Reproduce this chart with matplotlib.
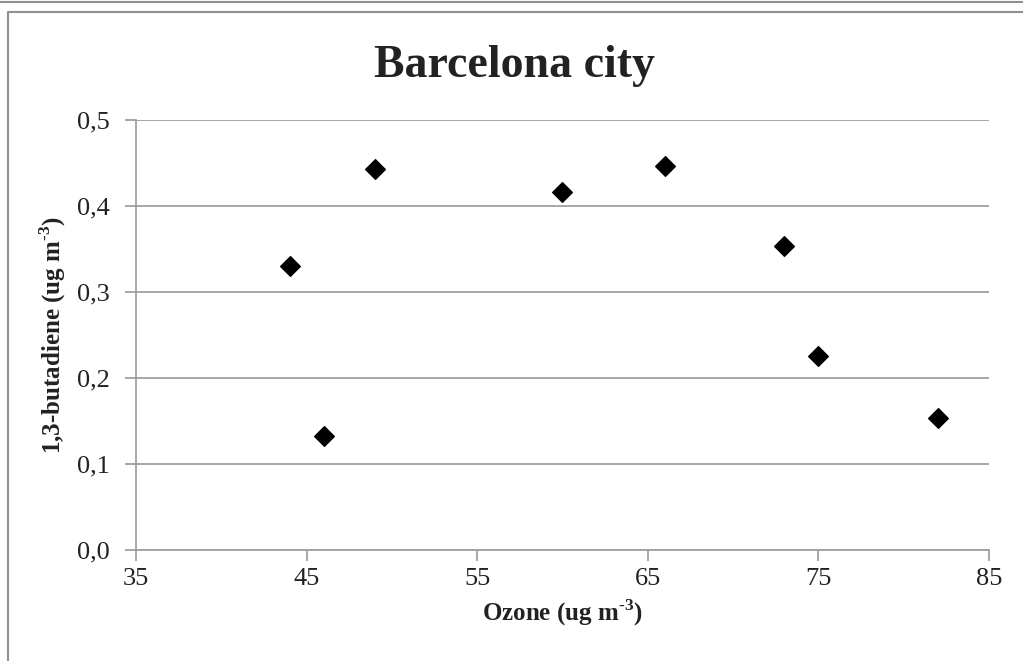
import matplotlib
matplotlib.use("Agg")
from matplotlib import pyplot as plt
from matplotlib.ticker import FuncFormatter
from matplotlib.lines import Line2D

ozone = [44, 46, 49, 60, 66, 73, 75, 82]
butadiene = [0.330, 0.132, 0.443, 0.416, 0.446, 0.353, 0.226, 0.153]
x_ticks = [35, 45, 55, 65, 75, 85]
y_ticks = [0.0, 0.1, 0.2, 0.3, 0.4, 0.5]

plt.rcParams["font.family"] = ["Liberation Serif", "DejaVu Serif"]
plt.rcParams["mathtext.fontset"] = "custom"
plt.rcParams["mathtext.rm"] = "Liberation Serif"
plt.rcParams["mathtext.bf"] = "Liberation Serif:bold"

W, H = 1023, 661
fig = plt.figure(figsize=(W / 100, H / 100), dpi=100)
ax = fig.add_axes([136 / W, 1 - 550 / H, (989 - 136) / W, (550 - 120) / H])

grey = "#a0a0a0"
# outer frame lines
fig.add_artist(Line2D([0, 1], [1 - 1.5 / H, 1 - 1.5 / H], color="#909090", lw=1.5))
fig.add_artist(Line2D([8 / W, 8 / W, 1.01], [-0.01, 1 - 12 / H, 1 - 12 / H], color="#909090", lw=1.5))

ax.scatter(ozone, butadiene, marker="D", s=100, color="black", zorder=3)

ax.set_xlim(35, 85)
ax.set_ylim(0, 0.5)
ax.set_xticks(x_ticks)
ax.set_yticks(y_ticks)
ax.yaxis.set_major_formatter(FuncFormatter(lambda v, p: f"{v:.1f}".replace(".", ",")))
ax.grid(axis="y", color=grey, lw=1.3)
ax.set_axisbelow(True)
for s in ["top", "right"]:
    ax.spines[s].set_visible(False)
for s in ["left", "bottom"]:
    ax.spines[s].set_color(grey)
    ax.spines[s].set_linewidth(1.3)
ax.tick_params(axis="both", direction="out", length=8, width=1.3, color=grey,
               labelsize=19, labelcolor="#222222")
ax.tick_params(axis="x", pad=5)
ax.tick_params(axis="y", pad=11)

sup = "$^{\\mathbf{\u20103}}$"
ax.set_xlabel("Ozone (ug m" + sup + ")", fontsize=18, fontweight="bold", labelpad=5,
              color="#222222")
ax.set_ylabel("1,3-butadiene (ug m" + sup + ")", fontsize=18, fontweight="bold", labelpad=6,
              color="#222222")
fig.text(515 / W, 1 - 66 / H, "Barcelona city", fontsize=33, fontweight="bold",
         ha="center", va="center", color="#222222")

fig.savefig("out.png", dpi=100)
